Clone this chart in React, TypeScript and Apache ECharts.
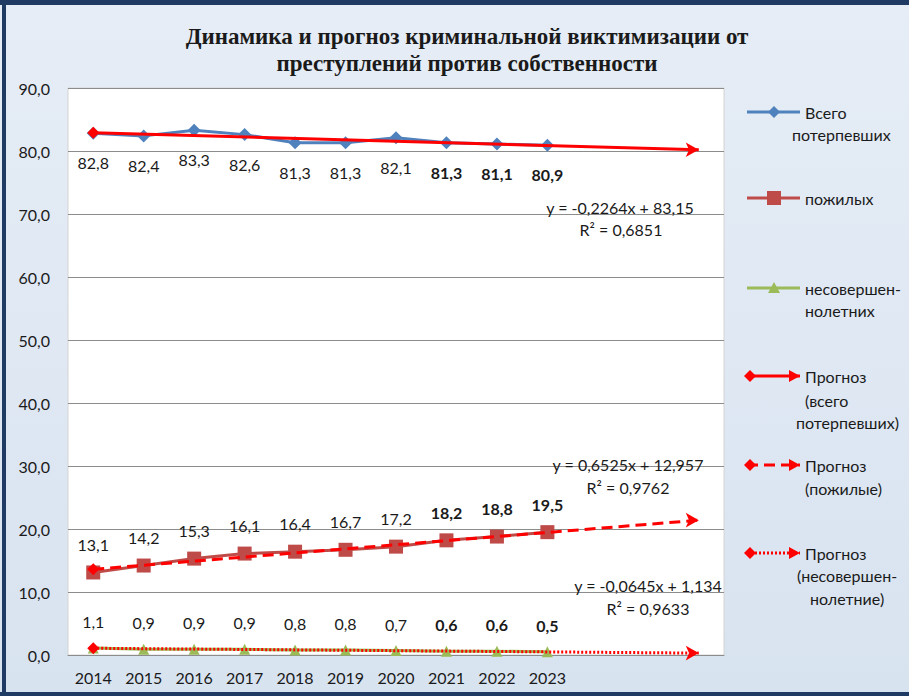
import React, { useEffect, useRef } from "react";
import * as echarts from "echarts";

const years = ["2014", "2015", "2016", "2017", "2018", "2019", "2020", "2021", "2022", "2023", "", "", ""];
const boldYears = ["2021", "2022", "2023"];
const total = [82.8, 82.4, 83.3, 82.6, 81.3, 81.3, 82.1, 81.3, 81.1, 80.9];
const elderly = [13.1, 14.2, 15.3, 16.1, 16.4, 16.7, 17.2, 18.2, 18.8, 19.5];
const juvenile = [1.1, 0.9, 0.9, 0.9, 0.8, 0.8, 0.7, 0.6, 0.6, 0.5];
// forecast (trend) lines: start / end points
const trendIdx = [0, 12];
const trendTotal = [82.9, 80.2];
const trendElderly = [13.6, 21.4];
const trendJuvenile = [1.07, 0.3];
const yTicks = [0, 10, 20, 30, 40, 50, 60, 70, 80, 90];

const FONT = "Lato, 'Open Sans', sans-serif";

function fmt(v: number) {
  return v.toFixed(1).replace(".", ",");
}

function dataItems(arr: number[]) {
  return arr.map((v, i) => ({
    value: v,
    label: { fontWeight: boldYears.includes(years[i]) ? "bold" : "normal" },
  }));
}

function trendData(vals: number[]) {
  return [
    { value: [trendIdx[0], vals[0]], symbol: "diamond", symbolSize: [12, 12] },
    { value: [trendIdx[1], vals[1]], symbol: "arrow", symbolSize: [11, 13], symbolRotate: -90 },
  ];
}

function legendText(x: number, y: number, text: string) {
  return {
    type: "text",
    x,
    y,
    style: {
      text,
      fill: "#1a1a1a",
      font: `16px ${FONT}`,
      align: "left",
      verticalAlign: "middle",
      textAlign: "left",
      textVerticalAlign: "middle",
    },
  };
}

function eqText(x: number, y: number, text: string) {
  return {
    type: "text",
    x,
    y,
    z: 50,
    style: {
      text,
      fill: "#1a1a1a",
      font: `16px ${FONT}`,
      align: "center",
      verticalAlign: "middle",
      textAlign: "center",
      textVerticalAlign: "middle",
    },
  };
}

function diamond(cx: number, cy: number, r: number, fill: string) {
  return {
    type: "polygon",
    shape: { points: [[cx, cy - r], [cx + r, cy], [cx, cy + r], [cx - r, cy]] },
    style: { fill },
  };
}

function arrowHead(x: number, cy: number, fill: string) {
  return {
    type: "polygon",
    shape: { points: [[x - 11, cy - 6], [x, cy], [x - 11, cy + 6]] },
    style: { fill },
  };
}

function legendLine(y: number, color: string, dash?: number[]) {
  return {
    type: "line",
    shape: { x1: 747, y1: y, x2: 800, y2: y },
    style: { stroke: color, lineWidth: 3, lineDash: dash },
  };
}

export default function App() {
  const ref = useRef<HTMLDivElement>(null);

  useEffect(() => {
    if (!ref.current) return;
    const chart = echarts.init(ref.current, null, { renderer: "svg" });

    const labelBase = {
      show: true,
      fontFamily: FONT,
      fontSize: 16,
      color: "#1a1a1a",
      formatter: (p: any) => fmt(Array.isArray(p.value) ? p.value[1] : p.value),
    };

    const option: any = {
      animation: false,
      backgroundColor: {
        type: "linear",
        x: 0,
        y: 0,
        x2: 0,
        y2: 1,
        colorStops: [
          { offset: 0, color: "#E6EDF6" },
          { offset: 1, color: "#D8E3F0" },
        ],
      },
      title: {
        text: "Динамика и прогноз криминальной виктимизации от\nпреступлений против собственности",
        left: 462,
        top: 18,
        textAlign: "center",
        textStyle: {
          fontFamily: "Liberation Serif, Times New Roman, serif",
          fontWeight: "bold",
          fontSize: 23,
          lineHeight: 27,
          color: "#1a1a1a",
        },
      },
      grid: {
        left: 68,
        top: 88,
        width: 656,
        height: 567,
        show: true,
        backgroundColor: "#ffffff",
        borderColor: "#d4d4d4",
        borderWidth: 1,
        containLabel: false,
      },
      xAxis: {
        type: "category",
        data: years,
        boundaryGap: true,
        axisLine: { show: true, lineStyle: { color: "#8c8c8c", width: 1 } },
        axisTick: { show: false },
        axisLabel: {
          fontFamily: FONT,
          fontSize: 16,
          color: "#1a1a1a",
          margin: 14,
          interval: 0,
        },
      },
      yAxis: {
        type: "value",
        min: yTicks[0],
        max: yTicks[yTicks.length - 1],
        interval: 10,
        axisLine: { show: false },
        axisTick: { show: false },
        splitLine: { show: true, lineStyle: { color: "#8c8c8c", width: 1 } },
        axisLabel: {
          fontFamily: FONT,
          fontSize: 16,
          color: "#1a1a1a",
          margin: 18,
          formatter: (v: number) => fmt(v),
        },
      },
      series: [
        {
          name: "Всего потерпевших",
          type: "line",
          data: dataItems(total),
          symbol: "diamond",
          symbolSize: 13,
          lineStyle: { color: "#4F81BD", width: 3 },
          itemStyle: { color: "#4F81BD" },
          label: { ...labelBase, position: "bottom", distance: 15 },
          z: 2,
        },
        {
          name: "пожилых",
          type: "line",
          data: dataItems(elderly),
          symbol: "rect",
          symbolSize: 14,
          lineStyle: { color: "#BE4B48", width: 3 },
          itemStyle: { color: "#BE4B48" },
          label: { ...labelBase, position: "top", distance: 13 },
          z: 2,
        },
        {
          name: "несовершеннолетних",
          type: "line",
          data: dataItems(juvenile),
          symbol: "triangle",
          symbolSize: 11,
          lineStyle: { color: "#9BBB59", width: 3 },
          itemStyle: { color: "#9BBB59" },
          label: { ...labelBase, position: "top", distance: 13 },
          z: 2,
        },
        {
          name: "Прогноз (всего потерпевших)",
          type: "line",
          data: trendData(trendTotal),
          lineStyle: { color: "#FF0000", width: 3 },
          itemStyle: { color: "#FF0000" },
          label: { show: false },
          z: 5,
        },
        {
          name: "Прогноз (пожилые)",
          type: "line",
          data: trendData(trendElderly),
          lineStyle: { color: "#FF0000", width: 3, type: [11, 6] },
          itemStyle: { color: "#FF0000" },
          label: { show: false },
          z: 5,
        },
        {
          name: "Прогноз (несовершеннолетние)",
          type: "line",
          data: trendData(trendJuvenile),
          lineStyle: { color: "#FF0000", width: 3, type: [2, 2] },
          itemStyle: { color: "#FF0000" },
          label: { show: false },
          z: 5,
        },
      ],
      graphic: [
        // frame
        { type: "rect", shape: { x: 0, y: 0, width: 909, height: 5 }, style: { fill: "#1F3A63" } },
        { type: "rect", shape: { x: 2, y: 0, width: 4, height: 696 }, style: { fill: "#1F3A63" } },
        { type: "rect", shape: { x: 0, y: 692, width: 909, height: 4 }, style: { fill: "#1F3A63" } },
        // trend equations
        eqText(620, 207, "y = -0,2264x + 83,15"),
        eqText(621, 229, "R² = 0,6851"),
        eqText(628, 464, "y = 0,6525x + 12,957"),
        eqText(628, 487, "R² = 0,9762"),
        eqText(648, 585, "y = -0,0645x + 1,134"),
        eqText(648, 608, "R² = 0,9633"),
        // legend
        legendLine(112, "#4F81BD"),
        diamond(774, 112, 6, "#4F81BD"),
        legendText(805, 112, "Всего"),
        legendText(792, 134, "потерпевших"),

        legendLine(198, "#BE4B48"),
        { type: "rect", shape: { x: 767, y: 191, width: 14, height: 14 }, style: { fill: "#BE4B48" } },
        legendText(805, 198, "пожилых"),

        legendLine(288, "#9BBB59"),
        { type: "polygon", shape: { points: [[774, 282], [780, 293], [768, 293]] }, style: { fill: "#9BBB59" } },
        legendText(805, 288, "несовершен-"),
        legendText(805, 310, "нолетних"),

        legendLine(376, "#FF0000"),
        diamond(750, 376, 6, "#FF0000"),
        arrowHead(800, 376, "#FF0000"),
        legendText(805, 376, "Прогноз"),
        legendText(805, 400, "(всего"),
        legendText(796, 422, "потерпевших)"),

        legendLine(465, "#FF0000", [11, 6]),
        diamond(750, 465, 6, "#FF0000"),
        arrowHead(800, 465, "#FF0000"),
        legendText(805, 465, "Прогноз"),
        legendText(805, 488, "(пожилые)"),

        legendLine(553, "#FF0000", [2, 2]),
        diamond(750, 553, 6, "#FF0000"),
        arrowHead(800, 553, "#FF0000"),
        legendText(805, 553, "Прогноз"),
        legendText(797, 575, "(несовершен-"),
        legendText(810, 598, "нолетние)"),
      ],
    };

    chart.setOption(option);
    return () => chart.dispose();
  }, []);

  return (
    <div
      ref={ref}
      style={{ position: "fixed", left: 0, top: 0, width: 909, height: 696 }}
    />
  );
}
